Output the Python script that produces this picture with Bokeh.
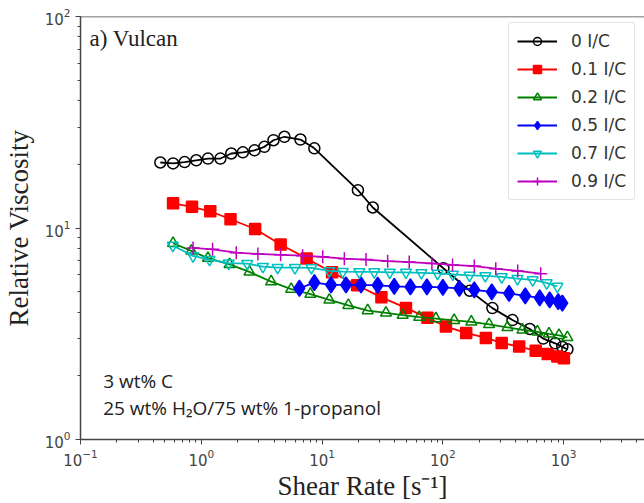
from bokeh.plotting import figure
from bokeh.models import Legend, LegendItem, Span, Range1d, Label
from bokeh.embed import file_html
from bokeh.resources import INLINE

# ---- data ----
series_names = ["0 I/C", "0.1 I/C", "0.2 I/C", "0.5 I/C", "0.7 I/C", "0.9 I/C"]

rate_00 = [0.458, 0.584, 0.728, 0.909, 1.136, 1.44, 1.77, 2.21, 2.76, 3.33, 3.96, 4.88,
           6.62, 8.63, 19.8, 26.3, 101, 167, 257, 377, 524, 677, 851, 975, 1074]
visc_00 = [20.4, 20.2, 20.5, 20.9, 21.3, 21.3, 22.5, 22.8, 23.3, 24.2, 26.0, 27.0,
           26.2, 23.8, 15.1, 12.5, 6.45, 5.05, 4.18, 3.67, 3.33, 3.0, 2.85, 2.74, 2.67]

rate_01 = [0.584, 0.838, 1.187, 1.746, 2.79, 4.54, 7.45, 12.1, 19.5, 31.0, 49.5, 74.5,
           106, 156, 227, 307, 428, 587, 738, 887, 1005]
visc_01 = [13.08, 12.6, 12.0, 11.0, 9.89, 8.36, 7.18, 6.17, 5.36, 4.70, 4.19, 3.76,
           3.42, 3.19, 3.02, 2.86, 2.75, 2.63, 2.54, 2.47, 2.42]

rate_02 = [0.584, 0.827, 1.136, 1.714, 2.507, 3.789, 5.544, 8.003, 11.49, 16.50, 23.86,
           33.81, 46.45, 63.70, 87.53, 124.0, 172.0, 241.3, 342.5, 455.7, 606.2, 755.9,
           914.7, 1073]
visc_02 = [8.47, 7.79, 7.20, 6.73, 6.20, 5.58, 5.14, 4.87, 4.57, 4.31, 4.07,
           3.97, 3.87, 3.79, 3.73, 3.66, 3.60, 3.50, 3.39, 3.30, 3.23, 3.16,
           3.11, 3.04]

rate_05 = [6.493, 8.639, 11.87, 15.79, 21.01, 28.87, 39.58, 53.87, 73.77, 100, 136.9,
           182.1, 254.1, 353.1, 480.8, 633.4, 766.1, 900.8, 975.6]
visc_05 = [5.19, 5.52, 5.38, 5.38, 5.38, 5.36, 5.30, 5.27, 5.27, 5.24, 5.18,
           5.10, 4.99, 4.91, 4.78, 4.67, 4.57, 4.49, 4.41]

rate_07 = [0.581, 0.854, 1.171, 1.688, 2.400, 3.236, 4.288, 5.962, 8.157, 11.47, 14.83,
           20.34, 27.05, 36.34, 49.45, 66.42, 90.41, 120.9, 166.3, 224.5, 307.3, 414.4,
           554.2, 723.5, 887.2]
visc_07 = [8.27, 7.38, 7.09, 6.82, 6.79, 6.57, 6.50, 6.49, 6.48, 6.27, 6.22,
           6.20, 6.20, 6.17, 6.17, 6.14, 6.10, 6.04, 5.97, 5.94, 5.87, 5.76,
           5.68, 5.50, 5.29]

rate_09 = [0.854, 1.240, 1.947, 2.942, 4.54, 6.901, 10.13, 15.29, 23.10, 34.91, 52.66,
           81.13, 120.3, 182.1, 274.2, 416.8, 645.5]
visc_09 = [8.05, 7.93, 7.64, 7.54, 7.47, 7.40, 7.31, 7.16, 7.09, 6.97, 6.90,
           6.80, 6.69, 6.61, 6.42, 6.27, 6.08]

x_label = "Shear Rate [s\u207b\u00b9]"
y_label = "Relative Viscosity"
panel_title = "a) Vulcan"
note_1 = "3 wt% C"
note_2 = "25 wt% H\u2082O/75 wt% 1-propanol"

# ---- styles ----
styles = [
    dict(color="#000000", marker="circle", fill=None, size=11),
    dict(color="#ff0000", marker="square", fill="#ff0000", size=11),
    dict(color="#008000", marker="triangle", fill=None, size=11),
    dict(color="#0000ff", marker="diamond", fill="#0000ff", size=16),
    dict(color="#00bfbf", marker="inverted_triangle", fill=None, size=11),
    dict(color="#bf00bf", marker="cross", fill=None, size=13),
]
data = [(rate_00, visc_00), (rate_01, visc_01), (rate_02, visc_02),
        (rate_05, visc_05), (rate_07, visc_07), (rate_09, visc_09)]

p = figure(width=644, height=503, x_axis_type="log", y_axis_type="log",
           x_range=Range1d(0.1, 4670), y_range=Range1d(1, 100),
           output_backend="svg", toolbar_location=None,
           min_border_left=80, min_border_right=0, min_border_top=16,
           min_border_bottom=63)

p.grid.visible = False
p.outline_line_color = None
p.background_fill_color = "white"
p.border_fill_color = "white"

for ax in (p.xaxis[0], p.yaxis[0]):
    ax.axis_line_color = "#444444"
    ax.axis_line_width = 1.5
    ax.major_tick_line_color = "#444444"
    ax.minor_tick_line_color = "#444444"
    ax.major_tick_in = 0
    ax.major_tick_out = 5
    ax.minor_tick_in = 0
    ax.minor_tick_out = 3
    ax.major_label_text_font = "DejaVu Sans"
    ax.major_label_text_font_size = "15px"
    ax.major_label_text_color = "#444444"
    ax.axis_label_text_font = "Liberation Serif"
    ax.axis_label_text_font_size = "27px"
    ax.axis_label_text_font_style = "normal"
    ax.axis_label_text_color = "#222222"

p.xaxis.axis_label = x_label
p.yaxis.axis_label = y_label
p.xaxis.axis_label_standoff = 2
p.yaxis.axis_label_standoff = 8
p.xaxis.major_label_standoff = 4

p.add_layout(Span(location=100, dimension="width", line_color="#444444", line_width=1.5))

items = []
for name, (xs, ys), st in zip(series_names, data, styles):
    lr = p.line(xs, ys, line_color=st["color"], line_width=1.8)
    sr = p.scatter(xs, ys, marker=st["marker"], size=st["size"],
                   line_color=st["color"], line_width=1.5,
                   fill_color=st["fill"] if st["fill"] else None)
    items.append(LegendItem(label=name, renderers=[lr, sr]))

legend = Legend(items=items, location=(428, 239))
legend.label_text_font = "DejaVu Sans"
legend.label_text_font_size = "17px"
legend.label_text_color = "#333333"
legend.glyph_width = 40
legend.glyph_height = 20
legend.label_height = 20
legend.spacing = 8
legend.padding = 8
legend.margin = 0
legend.label_standoff = 14
legend.border_line_color = "#cccccc"
legend.border_line_width = 1
legend.border_radius = 3
legend.background_fill_alpha = 1.0
p.add_layout(legend)

p.add_layout(Label(x=0.1187, y=78.8, text=panel_title, text_font="Liberation Serif",
                   text_font_size="23px", text_color="#222222", text_baseline="middle"))
p.add_layout(Label(x=0.154, y=1.90, text=note_1, text_font="Open Sans",
                   text_font_size="19px", text_color="#222222", text_baseline="middle"))
p.add_layout(Label(x=0.154, y=1.416, text=note_2, text_font="Open Sans",
                   text_font_size="19px", text_color="#222222", text_baseline="middle"))

open("out.html", "w").write(file_html(p, INLINE))
